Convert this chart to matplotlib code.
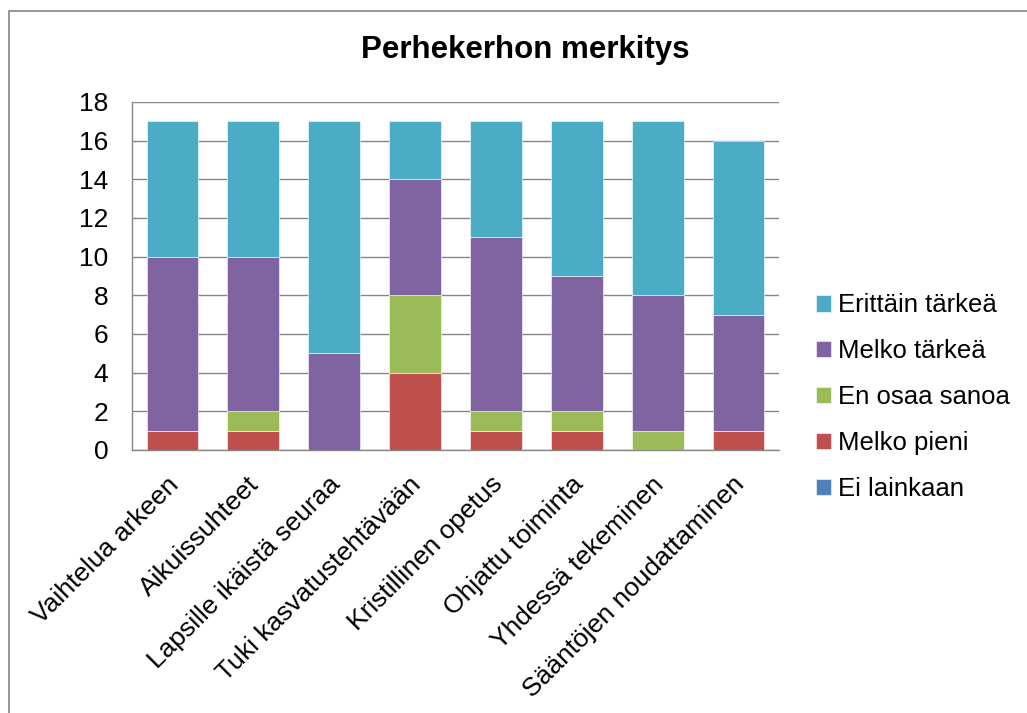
import matplotlib.pyplot as plt
import matplotlib.transforms as mtransforms
import numpy as np
from matplotlib.patches import Rectangle

plt.rcParams['font.family'] = ['Liberation Sans', 'DejaVu Sans']

categories = ['Vaihtelua arkeen', 'Aikuissuhteet', 'Lapsille ikäistä seuraa',
              'Tuki kasvatustehtävään', 'Kristillinen opetus', 'Ohjattu toiminta',
              'Yhdessä tekeminen', 'Sääntöjen noudattaminen']
ei_lainkaan = [0, 0, 0, 0, 0, 0, 0, 0]
melko_pieni = [1, 1, 0, 4, 1, 1, 0, 1]
en_osaa = [0, 1, 0, 4, 1, 1, 1, 0]
melko_tarkea = [9, 8, 5, 6, 9, 7, 7, 6]
erittain_tarkea = [7, 7, 12, 3, 6, 8, 9, 9]

series = [('Ei lainkaan', ei_lainkaan, '#4F81BD'),
          ('Melko pieni', melko_pieni, '#C0504D'),
          ('En osaa sanoa', en_osaa, '#9BBB59'),
          ('Melko tärkeä', melko_tarkea, '#8064A2'),
          ('Erittäin tärkeä', erittain_tarkea, '#4BACC6')]

fig = plt.figure(figsize=(10.27, 7.13), dpi=100)
ax = fig.add_axes([0.1285, 0.369, 0.63, 0.488])

x = np.arange(len(categories))
bottom = np.zeros(len(categories))
handles = []
for name, vals, col in series:
    b = ax.bar(x, vals, 0.64, bottom=bottom, color=col, edgecolor='white',
               linewidth=0.4, label=name, zorder=3)
    handles.append(b)
    bottom += np.array(vals)

ax.set_ylim(0, 18)
ax.set_xlim(-0.5, len(categories) - 0.5)
ax.set_yticks(range(0, 19, 2))
ax.yaxis.grid(True, color='#868686', linewidth=1, zorder=0)
ax.set_axisbelow(True)
for s in ['top', 'right']:
    ax.spines[s].set_visible(False)
for s in ['left', 'bottom']:
    ax.spines[s].set_color('#868686')
    ax.spines[s].set_linewidth(1)
ax.tick_params(axis='y', labelsize=19, length=0, pad=17)
ax.tick_params(axis='x', length=0, labelsize=19, pad=16)
ax.set_xticks(x)
ax.set_xticklabels(categories, rotation=45, ha='right', rotation_mode='anchor')
shift = mtransforms.ScaledTranslation(-6 / 100, 0, fig.dpi_scale_trans)
for lab in ax.get_xticklabels():
    lab.set_transform(lab.get_transform() + shift)

fig.text(0.511, 0.93, 'Perhekerhon merkitys', ha='center', va='center',
         fontsize=22.5, fontweight='bold')

fig.legend(handles[::-1], [s[0] for s in series][::-1], loc='center left',
           bbox_to_anchor=(0.772, 0.443), frameon=False, fontsize=18.5,
           handlelength=0.6, handleheight=0.6, handletextpad=0.25,
           labelspacing=0.85)

fig.patches.append(Rectangle((9 / 1027, -0.05), 1.2, 1 - 11 / 713 + 0.05,
                             transform=fig.transFigure, fill=False,
                             edgecolor='#868686', linewidth=1.2))

fig.savefig('out.png', dpi=100)
